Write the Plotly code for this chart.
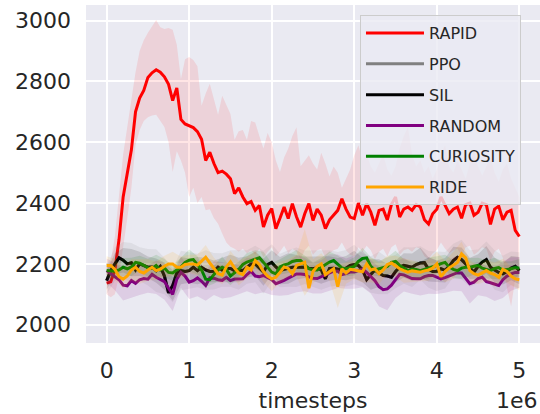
import plotly.graph_objects as go

# ---------------- data (timesteps in units of 1e6) ----------------
STEPS_E6 = [round(0.05 * i, 2) for i in range(101)]
BAND_STEPS_E6 = STEPS_E6[::2]

RAPID_MEAN = [2137, 2141, 2180, 2280, 2420, 2505, 2575, 2700, 2745, 2770,
              2813, 2828, 2838, 2830, 2815, 2790, 2737, 2778, 2675, 2660,
              2655, 2648, 2635, 2610, 2540, 2567, 2530, 2500, 2505, 2495,
              2480, 2431, 2450, 2420, 2398, 2405, 2376, 2392, 2321, 2360,
              2382, 2316, 2350, 2387, 2349, 2398, 2355, 2321, 2365, 2398,
              2343, 2380, 2360, 2316, 2345, 2360, 2376, 2414, 2380, 2354,
              2349, 2400, 2360, 2398, 2370, 2327, 2376, 2380, 2344, 2395,
              2420, 2354, 2380, 2387, 2376, 2395, 2387, 2345, 2331, 2365,
              2380, 2420, 2390, 2365, 2380, 2387, 2350, 2395, 2400, 2360,
              2370, 2400, 2395, 2330, 2380, 2390, 2345, 2370, 2376, 2310,
              2290]
RAPID_UPPER = [2190, 2210, 2290, 2420, 2560, 2650, 2740, 2830, 2900, 2935,
               2960, 2980, 3002, 2978, 2972, 2975, 2970, 2920, 2808, 2873,
               2880, 2870, 2850, 2720, 2760, 2792, 2740, 2690, 2753, 2720,
               2693, 2608, 2636, 2640, 2608, 2670, 2665, 2620, 2579, 2630,
               2600, 2540, 2502, 2550, 2579, 2620, 2649, 2521, 2540, 2557,
               2530, 2510, 2565, 2530, 2487, 2520, 2500, 2450, 2480, 2510,
               2557, 2590, 2540, 2560, 2520, 2500, 2530, 2560, 2510, 2490,
               2520, 2580, 2620, 2649, 2560, 2520, 2540, 2500, 2520, 2480,
               2510, 2560, 2590, 2520, 2500, 2540, 2510, 2480, 2530, 2570,
               2520, 2490, 2520, 2550, 2500, 2470, 2510, 2530, 2480, 2450,
               2420]
RAPID_LOWER = [2100, 2090, 2100, 2160, 2260, 2350, 2450, 2590, 2640, 2670,
               2682, 2688, 2690, 2670, 2650, 2600, 2502, 2570, 2540, 2500,
               2420, 2450, 2400, 2420, 2376, 2380, 2350, 2332, 2300, 2270,
               2256, 2250, 2240, 2250, 2235, 2245, 2230, 2250, 2220, 2240,
               2255, 2225, 2240, 2260, 2235, 2250, 2240, 2215, 2245, 2260,
               2230, 2245, 2250, 2220, 2235, 2245, 2250, 2270, 2245, 2230,
               2225, 2255, 2240, 2260, 2245, 2215, 2240, 2250, 2225, 2255,
               2265, 2230, 2245, 2250, 2240, 2255, 2250, 2225, 2215, 2235,
               2245, 2270, 2250, 2235, 2245, 2250, 2225, 2255, 2260, 2230,
               2240, 2255, 2250, 2210, 2240, 2250, 2220, 2120, 2060, 2150,
               2170]

SIL_MEAN = [2145, 2178, 2200, 2220, 2212, 2200, 2204, 2180, 2200, 2195,
            2189, 2190, 2178, 2192, 2160, 2105, 2129, 2170, 2178, 2175,
            2178, 2189, 2178, 2189, 2180, 2175, 2176, 2189, 2180, 2185,
            2185, 2178, 2180, 2178, 2190, 2200, 2200, 2188, 2173, 2198,
            2205, 2190, 2178, 2182, 2185, 2189, 2189, 2189, 2189, 2186,
            2184, 2187, 2180, 2151, 2185, 2186, 2184, 2180, 2186, 2195,
            2198, 2195, 2180, 2148, 2165, 2180, 2170, 2162, 2160, 2156,
            2175, 2190, 2195, 2192, 2189, 2198, 2203, 2204, 2182, 2175,
            2176, 2184, 2179, 2192, 2211, 2222, 2214, 2200, 2185, 2173,
            2192, 2206, 2214, 2189, 2180, 2172, 2167, 2175, 2186, 2192,
            2178]
# the grey PPO curve sits underneath the black SIL curve in the reference
PPO_MEAN = list(SIL_MEAN)

CURIOSITY_MEAN = [2178, 2178, 2176, 2180, 2189, 2184, 2190, 2205, 2202, 2195,
                  2187, 2185, 2195, 2180, 2186, 2172, 2170, 2180, 2190, 2205,
                  2212, 2214, 2195, 2180, 2150, 2148, 2165, 2180, 2189, 2182,
                  2160, 2170, 2182, 2198, 2206, 2211, 2215, 2220, 2205, 2188,
                  2173, 2167, 2190, 2197, 2200, 2208, 2211, 2211, 2198, 2184,
                  2180, 2180, 2189, 2198, 2206, 2211, 2198, 2187, 2184, 2187,
                  2192, 2208, 2218, 2220, 2192, 2180, 2184, 2189, 2192, 2205,
                  2208, 2195, 2185, 2178, 2183, 2182, 2178, 2182, 2186, 2189,
                  2195, 2201, 2205, 2190, 2182, 2178, 2186, 2189, 2189, 2192,
                  2195, 2186, 2182, 2178, 2185, 2188, 2179, 2181, 2184, 2188,
                  2186]

RIDE_MEAN = [2195, 2195, 2182, 2158, 2150, 2160, 2180, 2189, 2175, 2170,
             2180, 2189, 2178, 2183, 2192, 2200, 2200, 2189, 2189, 2198,
             2200, 2200, 2196, 2208, 2222, 2203, 2185, 2168, 2163, 2190,
             2207, 2186, 2170, 2165, 2189, 2180, 2211, 2198, 2175, 2160,
             2151, 2156, 2172, 2190, 2185, 2168, 2195, 2201, 2205, 2120,
             2175, 2192, 2200, 2165, 2175, 2184, 2125, 2184, 2170, 2182,
             2180, 2176, 2174, 2200, 2180, 2184, 2168, 2180, 2198, 2203,
             2192, 2184, 2178, 2173, 2177, 2176, 2173, 2177, 2180, 2186,
             2200, 2158, 2175, 2187, 2195, 2205, 2233, 2220, 2178, 2168,
             2163, 2170, 2178, 2170, 2165, 2156, 2182, 2175, 2160, 2151,
             2148]

RANDOM_MEAN = [2178, 2167, 2158, 2148, 2130, 2128, 2145, 2136, 2148, 2152,
               2150, 2166, 2156, 2150, 2142, 2120, 2100, 2150, 2172, 2160,
               2140, 2145, 2154, 2143, 2129, 2154, 2153, 2148, 2146, 2156,
               2145, 2150, 2151, 2151, 2165, 2176, 2160, 2158, 2162, 2155,
               2148, 2135, 2140, 2146, 2153, 2160, 2167, 2167, 2165, 2157,
               2153, 2152, 2158, 2165, 2172, 2176, 2176, 2165, 2168, 2173,
               2173, 2178, 2183, 2172, 2158, 2145, 2125, 2115, 2118, 2130,
               2148, 2166, 2164, 2158, 2152, 2151, 2151, 2158, 2162, 2162,
               2156, 2151, 2155, 2160, 2167, 2171, 2170, 2153, 2135, 2140,
               2152, 2156, 2142, 2138, 2133, 2129, 2148, 2160, 2167, 2172,
               2172]

# spread of the shaded bands (sampled every 0.1e6 steps)
PPO_STD = [45, 55, 60, 65, 55, 60, 70, 60, 55, 65, 60, 55, 65, 60, 55, 60, 65,
           55, 60, 70, 60, 55, 60, 65, 55, 60, 65, 60, 55, 60, 65, 55, 60, 70,
           60, 55, 60, 65, 55, 60, 65, 60, 55, 65, 60, 55, 60, 65, 60, 55, 60]
SIL_STD = [30, 35, 40, 45, 40, 35, 40, 45, 50, 45, 40, 45, 40, 35, 40, 45, 40,
           35, 40, 45, 40, 45, 50, 40, 35, 40, 45, 40, 35, 40, 45, 40, 50, 45,
           40, 35, 40, 45, 50, 40, 35, 40, 45, 40, 35, 40, 45, 40, 35, 40, 45]
RANDOM_STD = [40, 45, 50, 55, 50, 45, 55, 60, 55, 50, 55, 60, 50, 55, 60, 55,
              50, 55, 60, 55, 50, 45, 55, 60, 55, 50, 55, 60, 55, 50, 55, 60,
              55, 65, 70, 60, 55, 50, 55, 60, 55, 50, 55, 60, 65, 55, 50, 55,
              60, 55, 50]
CURIOSITY_STD = [25, 25, 30, 30, 25, 30, 35, 30, 25, 30, 35, 30, 25, 30, 35,
                 30, 25, 30, 30, 35, 30, 25, 30, 35, 30, 25, 30, 35, 30, 25,
                 30, 35, 30, 25, 30, 35, 30, 25, 30, 35, 30, 25, 30, 35, 30,
                 25, 30, 35, 30, 25, 30]
RIDE_STD = [30, 35, 30, 35, 40, 35, 30, 35, 40, 35, 30, 35, 40, 35, 30, 35,
            40, 35, 30, 35, 40, 35, 30, 35, 110, 40, 35, 30, 70, 35, 30, 35,
            40, 35, 30, 35, 40, 35, 30, 35, 40, 35, 45, 40, 35, 30, 35, 40,
            35, 30, 35]

X_TICKS = [0, 1, 2, 3, 4, 5]
X_TICK_TEXT = ["0", "1", "2", "3", "4", "5"]
Y_TICKS = [2000, 2200, 2400, 2600, 2800, 3000]
Y_TICK_TEXT = ["2000", "2200", "2400", "2600", "2800", "3000"]

FONT = "DejaVu Sans"
TXT = "#262626"
BG = "#EAEAF2"

fig = go.Figure()


def band(xs, lower, upper, rgb, alpha):
    fig.add_trace(go.Scatter(
        x=list(xs) + list(xs)[::-1], y=list(upper) + list(lower)[::-1],
        fill="toself", fillcolor=f"rgba({rgb},{alpha})",
        line=dict(width=0), mode="lines", showlegend=False, hoverinfo="skip"))


def curve(name, ys, color, group):
    fig.add_trace(go.Scatter(
        x=STEPS_E6, y=ys, mode="lines", name=name, legendgroup=group,
        line=dict(color=color, width=3)))


series = [
    ("RAPID", RAPID_MEAN, None, "255,0,0", "#FF0000"),
    ("PPO", PPO_MEAN, PPO_STD, "128,128,128", "#808080"),
    ("SIL", SIL_MEAN, SIL_STD, "0,0,0", "#000000"),
    ("RANDOM", RANDOM_MEAN, RANDOM_STD, "128,0,128", "#800080"),
    ("CURIOSITY", CURIOSITY_MEAN, CURIOSITY_STD, "0,128,0", "#008000"),
    ("RIDE", RIDE_MEAN, RIDE_STD, "255,165,0", "#FFA500"),
]

for k, (name, mean, std, rgb, col) in enumerate(series):
    if std is None:
        band(STEPS_E6, RAPID_LOWER, RAPID_UPPER, rgb, 0.1)
    else:
        m = mean[::2]
        band(BAND_STEPS_E6, [a - s for a, s in zip(m, std)],
             [a + s for a, s in zip(m, std)], rgb, 0.12)
    curve(name, mean, col, f"g{k}")

fig.update_layout(
    width=540, height=414,
    margin=dict(l=86, r=0, t=5, b=71),
    paper_bgcolor="white", plot_bgcolor=BG,
    font=dict(family=FONT, size=22, color=TXT),
    showlegend=True,
    legend=dict(x=0.6035, y=0.97, xanchor="left", yanchor="top",
                bgcolor="rgba(234,234,242,0.8)", bordercolor="#cccccc",
                borderwidth=1, font=dict(family=FONT, size=16, color=TXT),
                tracegroupgap=7, itemwidth=58,
                entrywidth=165, entrywidthmode="pixels"),
    xaxis=dict(range=[-0.25, 5.25], tickmode="array", tickvals=X_TICKS,
               ticktext=X_TICK_TEXT, showgrid=True, gridcolor="white",
               gridwidth=1.6, zeroline=False, showline=False,
               ticks="", ticklabelstandoff=12,
               title=dict(text="timesteps", standoff=10,
                          font=dict(size=22, color=TXT))),
    yaxis=dict(range=[1940, 3051], tickmode="array", tickvals=Y_TICKS,
               ticktext=Y_TICK_TEXT, showgrid=True, gridcolor="white",
               gridwidth=1.6, zeroline=False, showline=False,
               ticks="", ticklabelstandoff=14),
    annotations=[dict(text="1e6", xref="paper", yref="paper", x=1.0,
                      y=-0.169, xanchor="right", yanchor="middle",
                      showarrow=False,
                      font=dict(family=FONT, size=22, color=TXT))],
)

fig.write_html("out.html")
